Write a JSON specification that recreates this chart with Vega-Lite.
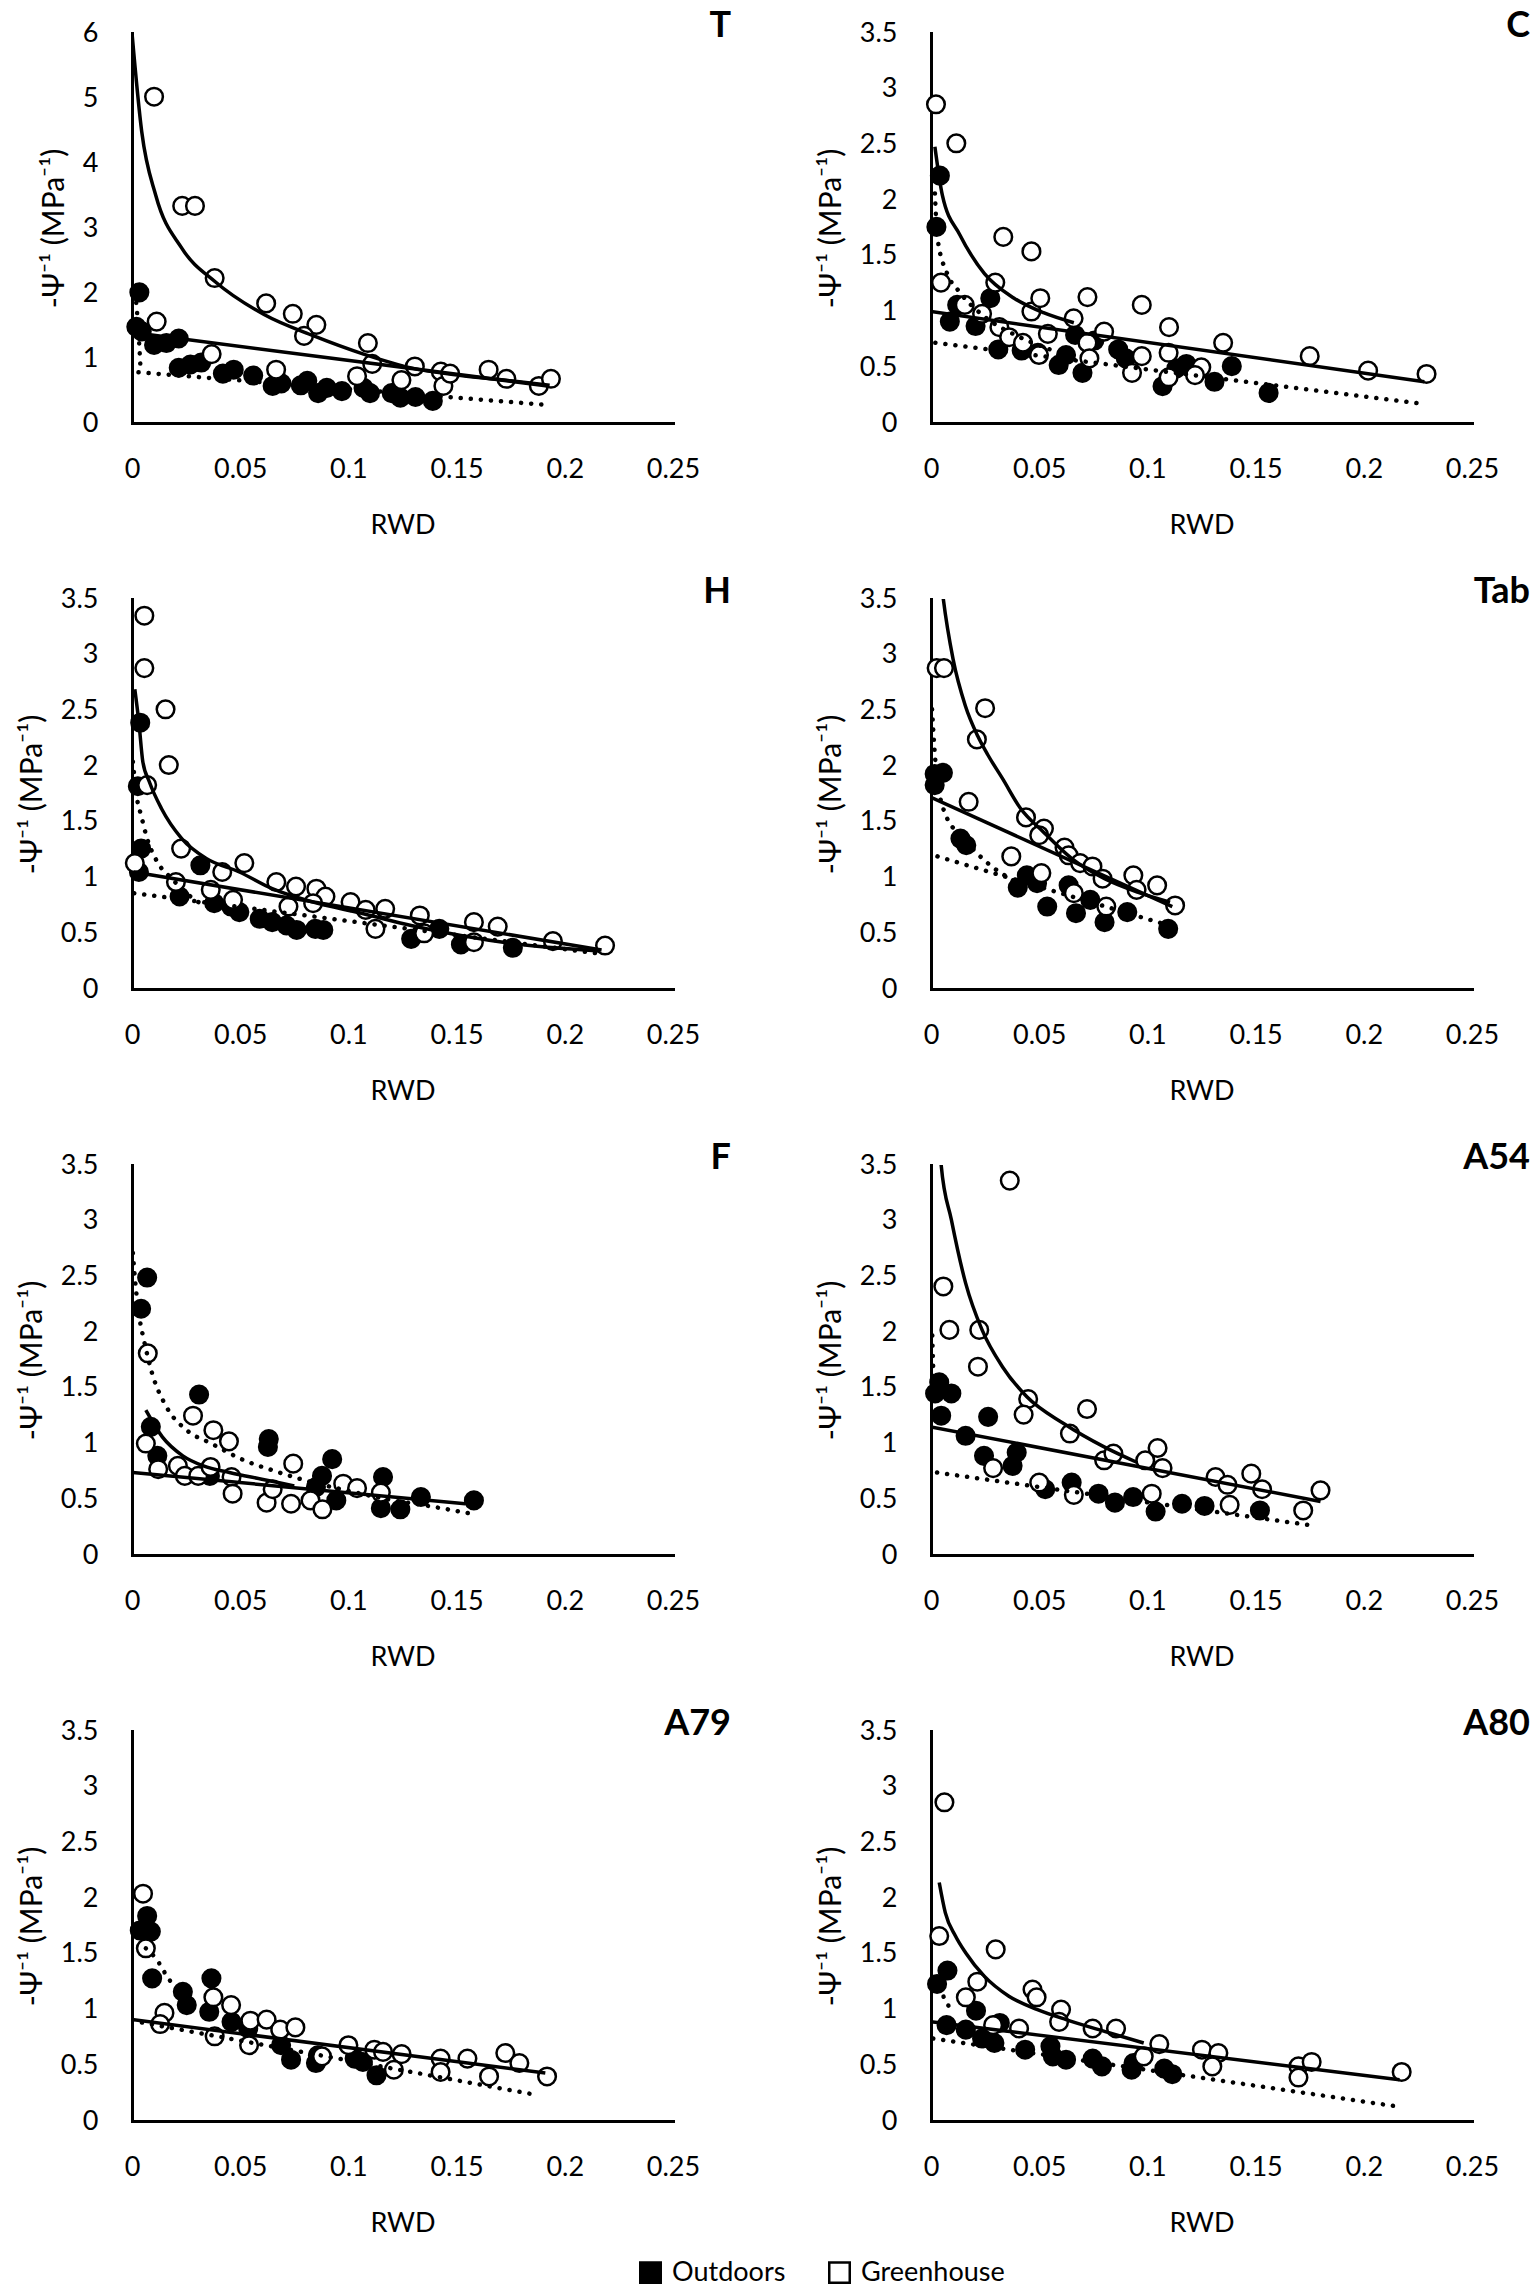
{
  "$schema": "https://vega.github.io/schema/vega-lite/v6.json",
  "background": "#ffffff",
  "padding": {"left": 17, "top": 8, "right": 0, "bottom": 0},
  "bounds": "flush",
  "columns": 2,
  "spacing": {"row": 176, "column": 258},
  "datasets": {
    "pts": [
      {"p":"T","g":"Outdoors","x":0.0034,"y":2.01},{"p":"T","g":"Outdoors","x":0.0045,"y":1.41},{"p":"T","g":"Outdoors","x":0.002,"y":1.48},{"p":"T","g":"Outdoors","x":0.0102,"y":1.2},{"p":"T","g":"Outdoors","x":0.0159,"y":1.23},{"p":"T","g":"Outdoors","x":0.0216,"y":1.3},{"p":"T","g":"Outdoors","x":0.0216,"y":0.85},{"p":"T","g":"Outdoors","x":0.027,"y":0.9},{"p":"T","g":"Outdoors","x":0.032,"y":0.93},{"p":"T","g":"Outdoors","x":0.042,"y":0.76},{"p":"T","g":"Outdoors","x":0.047,"y":0.82},{"p":"T","g":"Outdoors","x":0.056,"y":0.73},{"p":"T","g":"Outdoors","x":0.065,"y":0.57},{"p":"T","g":"Outdoors","x":0.069,"y":0.61},{"p":"T","g":"Outdoors","x":0.078,"y":0.58},{"p":"T","g":"Outdoors","x":0.081,"y":0.65},{"p":"T","g":"Outdoors","x":0.086,"y":0.46},{"p":"T","g":"Outdoors","x":0.09,"y":0.54},{"p":"T","g":"Outdoors","x":0.097,"y":0.49},{"p":"T","g":"Outdoors","x":0.107,"y":0.54},{"p":"T","g":"Outdoors","x":0.11,"y":0.46},{"p":"T","g":"Outdoors","x":0.12,"y":0.46},{"p":"T","g":"Outdoors","x":0.124,"y":0.39},{"p":"T","g":"Outdoors","x":0.131,"y":0.4},{"p":"T","g":"Outdoors","x":0.139,"y":0.34},
      {"p":"T","g":"Greenhouse","x":0.0102,"y":5.02},{"p":"T","g":"Greenhouse","x":0.0232,"y":3.34},{"p":"T","g":"Greenhouse","x":0.0291,"y":3.34},{"p":"T","g":"Greenhouse","x":0.0382,"y":2.23},{"p":"T","g":"Greenhouse","x":0.062,"y":1.84},{"p":"T","g":"Greenhouse","x":0.0743,"y":1.68},{"p":"T","g":"Greenhouse","x":0.0852,"y":1.51},{"p":"T","g":"Greenhouse","x":0.0795,"y":1.34},{"p":"T","g":"Greenhouse","x":0.0114,"y":1.56},{"p":"T","g":"Greenhouse","x":0.0368,"y":1.06},{"p":"T","g":"Greenhouse","x":0.0666,"y":0.82},{"p":"T","g":"Greenhouse","x":0.109,"y":1.23},{"p":"T","g":"Greenhouse","x":0.111,"y":0.91},{"p":"T","g":"Greenhouse","x":0.104,"y":0.72},{"p":"T","g":"Greenhouse","x":0.1245,"y":0.66},{"p":"T","g":"Greenhouse","x":0.1307,"y":0.87},{"p":"T","g":"Greenhouse","x":0.1427,"y":0.79},{"p":"T","g":"Greenhouse","x":0.1439,"y":0.57},{"p":"T","g":"Greenhouse","x":0.147,"y":0.76},{"p":"T","g":"Greenhouse","x":0.1648,"y":0.82},{"p":"T","g":"Greenhouse","x":0.173,"y":0.68},{"p":"T","g":"Greenhouse","x":0.188,"y":0.57},{"p":"T","g":"Greenhouse","x":0.1936,"y":0.68},
      {"p":"C","g":"Outdoors","x":0.0041,"y":2.22},{"p":"C","g":"Outdoors","x":0.0025,"y":1.76},{"p":"C","g":"Outdoors","x":0.0121,"y":1.06},{"p":"C","g":"Outdoors","x":0.0087,"y":0.91},{"p":"C","g":"Outdoors","x":0.0206,"y":0.87},{"p":"C","g":"Outdoors","x":0.0274,"y":1.12},{"p":"C","g":"Outdoors","x":0.0311,"y":0.66},{"p":"C","g":"Outdoors","x":0.0419,"y":0.65},{"p":"C","g":"Outdoors","x":0.0494,"y":0.63},{"p":"C","g":"Outdoors","x":0.059,"y":0.52},{"p":"C","g":"Outdoors","x":0.0624,"y":0.61},{"p":"C","g":"Outdoors","x":0.07,"y":0.45},{"p":"C","g":"Outdoors","x":0.0666,"y":0.79},{"p":"C","g":"Outdoors","x":0.0755,"y":0.74},{"p":"C","g":"Outdoors","x":0.0865,"y":0.66},{"p":"C","g":"Outdoors","x":0.09,"y":0.58},{"p":"C","g":"Outdoors","x":0.107,"y":0.33},{"p":"C","g":"Outdoors","x":0.1134,"y":0.49},{"p":"C","g":"Outdoors","x":0.118,"y":0.53},{"p":"C","g":"Outdoors","x":0.131,"y":0.37},{"p":"C","g":"Outdoors","x":0.139,"y":0.51},{"p":"C","g":"Outdoors","x":0.156,"y":0.27},
      {"p":"C","g":"Greenhouse","x":0.0023,"y":2.86},{"p":"C","g":"Greenhouse","x":0.0117,"y":2.51},{"p":"C","g":"Greenhouse","x":0.0046,"y":1.26},{"p":"C","g":"Greenhouse","x":0.0334,"y":1.67},{"p":"C","g":"Greenhouse","x":0.0464,"y":1.54},{"p":"C","g":"Greenhouse","x":0.0297,"y":1.26},{"p":"C","g":"Greenhouse","x":0.0156,"y":1.06},{"p":"C","g":"Greenhouse","x":0.0236,"y":0.98},{"p":"C","g":"Greenhouse","x":0.0316,"y":0.86},{"p":"C","g":"Greenhouse","x":0.0361,"y":0.77},{"p":"C","g":"Greenhouse","x":0.0425,"y":0.72},{"p":"C","g":"Greenhouse","x":0.0464,"y":1.0},{"p":"C","g":"Greenhouse","x":0.0505,"y":1.12},{"p":"C","g":"Greenhouse","x":0.054,"y":0.8},{"p":"C","g":"Greenhouse","x":0.0499,"y":0.61},{"p":"C","g":"Greenhouse","x":0.0659,"y":0.94},{"p":"C","g":"Greenhouse","x":0.0723,"y":1.13},{"p":"C","g":"Greenhouse","x":0.0723,"y":0.72},{"p":"C","g":"Greenhouse","x":0.0732,"y":0.58},{"p":"C","g":"Greenhouse","x":0.08,"y":0.82},{"p":"C","g":"Greenhouse","x":0.0974,"y":1.06},{"p":"C","g":"Greenhouse","x":0.0974,"y":0.6},{"p":"C","g":"Greenhouse","x":0.0929,"y":0.45},{"p":"C","g":"Greenhouse","x":0.11,"y":0.86},{"p":"C","g":"Greenhouse","x":0.1098,"y":0.63},{"p":"C","g":"Greenhouse","x":0.1098,"y":0.41},{"p":"C","g":"Greenhouse","x":0.1249,"y":0.5},{"p":"C","g":"Greenhouse","x":0.122,"y":0.43},{"p":"C","g":"Greenhouse","x":0.135,"y":0.72},{"p":"C","g":"Greenhouse","x":0.175,"y":0.6},{"p":"C","g":"Greenhouse","x":0.202,"y":0.47},{"p":"C","g":"Greenhouse","x":0.229,"y":0.44},
      {"p":"H","g":"Outdoors","x":0.0038,"y":2.39},{"p":"H","g":"Outdoors","x":0.0027,"y":1.82},{"p":"H","g":"Outdoors","x":0.0042,"y":1.26},{"p":"H","g":"Outdoors","x":0.0032,"y":1.05},{"p":"H","g":"Outdoors","x":0.0316,"y":1.11},{"p":"H","g":"Outdoors","x":0.022,"y":0.83},{"p":"H","g":"Outdoors","x":0.038,"y":0.77},{"p":"H","g":"Outdoors","x":0.0458,"y":0.74},{"p":"H","g":"Outdoors","x":0.0496,"y":0.69},{"p":"H","g":"Outdoors","x":0.059,"y":0.63},{"p":"H","g":"Outdoors","x":0.0648,"y":0.6},{"p":"H","g":"Outdoors","x":0.0714,"y":0.57},{"p":"H","g":"Outdoors","x":0.0761,"y":0.53},{"p":"H","g":"Outdoors","x":0.0847,"y":0.54},{"p":"H","g":"Outdoors","x":0.0884,"y":0.53},{"p":"H","g":"Outdoors","x":0.129,"y":0.45},{"p":"H","g":"Outdoors","x":0.142,"y":0.54},{"p":"H","g":"Outdoors","x":0.152,"y":0.4},{"p":"H","g":"Outdoors","x":0.176,"y":0.37},
      {"p":"H","g":"Greenhouse","x":0.0057,"y":3.35},{"p":"H","g":"Greenhouse","x":0.0057,"y":2.88},{"p":"H","g":"Greenhouse","x":0.0155,"y":2.51},{"p":"H","g":"Greenhouse","x":0.017,"y":2.01},{"p":"H","g":"Greenhouse","x":0.007,"y":1.83},{"p":"H","g":"Greenhouse","x":0.0227,"y":1.26},{"p":"H","g":"Greenhouse","x":0.0013,"y":1.13},{"p":"H","g":"Greenhouse","x":0.0203,"y":0.96},{"p":"H","g":"Greenhouse","x":0.0364,"y":0.89},{"p":"H","g":"Greenhouse","x":0.0417,"y":1.05},{"p":"H","g":"Greenhouse","x":0.0519,"y":1.13},{"p":"H","g":"Greenhouse","x":0.0467,"y":0.8},{"p":"H","g":"Greenhouse","x":0.0667,"y":0.96},{"p":"H","g":"Greenhouse","x":0.0758,"y":0.92},{"p":"H","g":"Greenhouse","x":0.0852,"y":0.9},{"p":"H","g":"Greenhouse","x":0.0894,"y":0.83},{"p":"H","g":"Greenhouse","x":0.0723,"y":0.74},{"p":"H","g":"Greenhouse","x":0.0837,"y":0.77},{"p":"H","g":"Greenhouse","x":0.101,"y":0.78},{"p":"H","g":"Greenhouse","x":0.108,"y":0.71},{"p":"H","g":"Greenhouse","x":0.117,"y":0.72},{"p":"H","g":"Greenhouse","x":0.1125,"y":0.54},{"p":"H","g":"Greenhouse","x":0.133,"y":0.66},{"p":"H","g":"Greenhouse","x":0.135,"y":0.5},{"p":"H","g":"Greenhouse","x":0.158,"y":0.6},{"p":"H","g":"Greenhouse","x":0.169,"y":0.56},{"p":"H","g":"Greenhouse","x":0.158,"y":0.42},{"p":"H","g":"Greenhouse","x":0.1945,"y":0.43},{"p":"H","g":"Greenhouse","x":0.2186,"y":0.39},
      {"p":"Tab","g":"Outdoors","x":0.0017,"y":1.93},{"p":"Tab","g":"Outdoors","x":0.0055,"y":1.94},{"p":"Tab","g":"Outdoors","x":0.0017,"y":1.83},{"p":"Tab","g":"Outdoors","x":0.0136,"y":1.35},{"p":"Tab","g":"Outdoors","x":0.0163,"y":1.29},{"p":"Tab","g":"Outdoors","x":0.0443,"y":1.02},{"p":"Tab","g":"Outdoors","x":0.0401,"y":0.91},{"p":"Tab","g":"Outdoors","x":0.049,"y":0.95},{"p":"Tab","g":"Outdoors","x":0.0537,"y":0.74},{"p":"Tab","g":"Outdoors","x":0.0636,"y":0.93},{"p":"Tab","g":"Outdoors","x":0.067,"y":0.68},{"p":"Tab","g":"Outdoors","x":0.0736,"y":0.8},{"p":"Tab","g":"Outdoors","x":0.0802,"y":0.6},{"p":"Tab","g":"Outdoors","x":0.0907,"y":0.69},{"p":"Tab","g":"Outdoors","x":0.1096,"y":0.54},
      {"p":"Tab","g":"Greenhouse","x":0.0026,"y":2.88},{"p":"Tab","g":"Greenhouse","x":0.006,"y":2.88},{"p":"Tab","g":"Greenhouse","x":0.025,"y":2.52},{"p":"Tab","g":"Greenhouse","x":0.0212,"y":2.24},{"p":"Tab","g":"Greenhouse","x":0.0174,"y":1.68},{"p":"Tab","g":"Greenhouse","x":0.0439,"y":1.54},{"p":"Tab","g":"Greenhouse","x":0.0522,"y":1.44},{"p":"Tab","g":"Greenhouse","x":0.05,"y":1.38},{"p":"Tab","g":"Greenhouse","x":0.0617,"y":1.27},{"p":"Tab","g":"Greenhouse","x":0.0636,"y":1.2},{"p":"Tab","g":"Greenhouse","x":0.0689,"y":1.13},{"p":"Tab","g":"Greenhouse","x":0.0746,"y":1.1},{"p":"Tab","g":"Greenhouse","x":0.0793,"y":0.99},{"p":"Tab","g":"Greenhouse","x":0.0371,"y":1.19},{"p":"Tab","g":"Greenhouse","x":0.051,"y":1.04},{"p":"Tab","g":"Greenhouse","x":0.066,"y":0.86},{"p":"Tab","g":"Greenhouse","x":0.0935,"y":1.02},{"p":"Tab","g":"Greenhouse","x":0.095,"y":0.89},{"p":"Tab","g":"Greenhouse","x":0.1045,"y":0.93},{"p":"Tab","g":"Greenhouse","x":0.1128,"y":0.75},{"p":"Tab","g":"Greenhouse","x":0.081,"y":0.74},
      {"p":"F","g":"Outdoors","x":0.007,"y":2.49},{"p":"F","g":"Outdoors","x":0.0042,"y":2.21},{"p":"F","g":"Outdoors","x":0.031,"y":1.44},{"p":"F","g":"Outdoors","x":0.0087,"y":1.15},{"p":"F","g":"Outdoors","x":0.0117,"y":0.89},{"p":"F","g":"Outdoors","x":0.0632,"y":1.04},{"p":"F","g":"Outdoors","x":0.0628,"y":0.97},{"p":"F","g":"Outdoors","x":0.0925,"y":0.86},{"p":"F","g":"Outdoors","x":0.0878,"y":0.71},{"p":"F","g":"Outdoors","x":0.085,"y":0.61},{"p":"F","g":"Outdoors","x":0.0944,"y":0.49},{"p":"F","g":"Outdoors","x":0.116,"y":0.7},{"p":"F","g":"Outdoors","x":0.115,"y":0.42},{"p":"F","g":"Outdoors","x":0.124,"y":0.41},{"p":"F","g":"Outdoors","x":0.1335,"y":0.52},{"p":"F","g":"Outdoors","x":0.158,"y":0.49},{"p":"F","g":"Outdoors","x":0.036,"y":0.71},
      {"p":"F","g":"Greenhouse","x":0.0073,"y":1.81},{"p":"F","g":"Greenhouse","x":0.0282,"y":1.25},{"p":"F","g":"Greenhouse","x":0.0376,"y":1.12},{"p":"F","g":"Greenhouse","x":0.0448,"y":1.02},{"p":"F","g":"Greenhouse","x":0.0064,"y":1.0},{"p":"F","g":"Greenhouse","x":0.0121,"y":0.77},{"p":"F","g":"Greenhouse","x":0.0212,"y":0.8},{"p":"F","g":"Greenhouse","x":0.0244,"y":0.71},{"p":"F","g":"Greenhouse","x":0.0306,"y":0.71},{"p":"F","g":"Greenhouse","x":0.0363,"y":0.79},{"p":"F","g":"Greenhouse","x":0.046,"y":0.7},{"p":"F","g":"Greenhouse","x":0.0465,"y":0.55},{"p":"F","g":"Greenhouse","x":0.0622,"y":0.47},{"p":"F","g":"Greenhouse","x":0.065,"y":0.59},{"p":"F","g":"Greenhouse","x":0.0735,"y":0.46},{"p":"F","g":"Greenhouse","x":0.0745,"y":0.82},{"p":"F","g":"Greenhouse","x":0.0825,"y":0.49},{"p":"F","g":"Greenhouse","x":0.088,"y":0.41},{"p":"F","g":"Greenhouse","x":0.0976,"y":0.64},{"p":"F","g":"Greenhouse","x":0.104,"y":0.6},{"p":"F","g":"Greenhouse","x":0.115,"y":0.56},
      {"p":"A54","g":"Outdoors","x":0.0038,"y":1.55},{"p":"A54","g":"Outdoors","x":0.0094,"y":1.45},{"p":"A54","g":"Outdoors","x":0.0019,"y":1.45},{"p":"A54","g":"Outdoors","x":0.0047,"y":1.25},{"p":"A54","g":"Outdoors","x":0.0264,"y":1.24},{"p":"A54","g":"Outdoors","x":0.016,"y":1.07},{"p":"A54","g":"Outdoors","x":0.0245,"y":0.89},{"p":"A54","g":"Outdoors","x":0.0396,"y":0.92},{"p":"A54","g":"Outdoors","x":0.0377,"y":0.8},{"p":"A54","g":"Outdoors","x":0.0528,"y":0.59},{"p":"A54","g":"Outdoors","x":0.065,"y":0.65},{"p":"A54","g":"Outdoors","x":0.0774,"y":0.55},{"p":"A54","g":"Outdoors","x":0.085,"y":0.47},{"p":"A54","g":"Outdoors","x":0.0934,"y":0.52},{"p":"A54","g":"Outdoors","x":0.1038,"y":0.39},{"p":"A54","g":"Outdoors","x":0.116,"y":0.46},{"p":"A54","g":"Outdoors","x":0.1264,"y":0.44},{"p":"A54","g":"Outdoors","x":0.152,"y":0.4},
      {"p":"A54","g":"Greenhouse","x":0.0364,"y":3.36},{"p":"A54","g":"Greenhouse","x":0.0057,"y":2.41},{"p":"A54","g":"Greenhouse","x":0.0085,"y":2.02},{"p":"A54","g":"Greenhouse","x":0.0223,"y":2.02},{"p":"A54","g":"Greenhouse","x":0.0217,"y":1.69},{"p":"A54","g":"Greenhouse","x":0.0449,"y":1.4},{"p":"A54","g":"Greenhouse","x":0.0428,"y":1.26},{"p":"A54","g":"Greenhouse","x":0.0721,"y":1.31},{"p":"A54","g":"Greenhouse","x":0.0642,"y":1.09},{"p":"A54","g":"Greenhouse","x":0.08,"y":0.85},{"p":"A54","g":"Greenhouse","x":0.0843,"y":0.91},{"p":"A54","g":"Greenhouse","x":0.099,"y":0.85},{"p":"A54","g":"Greenhouse","x":0.1047,"y":0.96},{"p":"A54","g":"Greenhouse","x":0.107,"y":0.78},{"p":"A54","g":"Greenhouse","x":0.0287,"y":0.78},{"p":"A54","g":"Greenhouse","x":0.05,"y":0.65},{"p":"A54","g":"Greenhouse","x":0.066,"y":0.54},{"p":"A54","g":"Greenhouse","x":0.102,"y":0.55},{"p":"A54","g":"Greenhouse","x":0.1315,"y":0.7},{"p":"A54","g":"Greenhouse","x":0.137,"y":0.63},{"p":"A54","g":"Greenhouse","x":0.148,"y":0.73},{"p":"A54","g":"Greenhouse","x":0.153,"y":0.59},{"p":"A54","g":"Greenhouse","x":0.138,"y":0.45},{"p":"A54","g":"Greenhouse","x":0.172,"y":0.4},{"p":"A54","g":"Greenhouse","x":0.18,"y":0.58},
      {"p":"A79","g":"Outdoors","x":0.007,"y":1.84},{"p":"A79","g":"Outdoors","x":0.0036,"y":1.71},{"p":"A79","g":"Outdoors","x":0.0087,"y":1.7},{"p":"A79","g":"Outdoors","x":0.0093,"y":1.28},{"p":"A79","g":"Outdoors","x":0.0367,"y":1.28},{"p":"A79","g":"Outdoors","x":0.0235,"y":1.16},{"p":"A79","g":"Outdoors","x":0.0253,"y":1.04},{"p":"A79","g":"Outdoors","x":0.0357,"y":0.98},{"p":"A79","g":"Outdoors","x":0.046,"y":0.89},{"p":"A79","g":"Outdoors","x":0.0537,"y":0.83},{"p":"A79","g":"Outdoors","x":0.0689,"y":0.68},{"p":"A79","g":"Outdoors","x":0.0735,"y":0.55},{"p":"A79","g":"Outdoors","x":0.0859,"y":0.59},{"p":"A79","g":"Outdoors","x":0.085,"y":0.52},{"p":"A79","g":"Outdoors","x":0.1029,"y":0.56},{"p":"A79","g":"Outdoors","x":0.1067,"y":0.53},{"p":"A79","g":"Outdoors","x":0.113,"y":0.41},
      {"p":"A79","g":"Greenhouse","x":0.0051,"y":2.04},{"p":"A79","g":"Greenhouse","x":0.0064,"y":1.55},{"p":"A79","g":"Greenhouse","x":0.015,"y":0.97},{"p":"A79","g":"Greenhouse","x":0.013,"y":0.87},{"p":"A79","g":"Greenhouse","x":0.0376,"y":1.11},{"p":"A79","g":"Greenhouse","x":0.0458,"y":1.04},{"p":"A79","g":"Greenhouse","x":0.0382,"y":0.76},{"p":"A79","g":"Greenhouse","x":0.0547,"y":0.9},{"p":"A79","g":"Greenhouse","x":0.0622,"y":0.91},{"p":"A79","g":"Greenhouse","x":0.0685,"y":0.82},{"p":"A79","g":"Greenhouse","x":0.0755,"y":0.84},{"p":"A79","g":"Greenhouse","x":0.0541,"y":0.68},{"p":"A79","g":"Greenhouse","x":0.0878,"y":0.58},{"p":"A79","g":"Greenhouse","x":0.1,"y":0.68},{"p":"A79","g":"Greenhouse","x":0.112,"y":0.64},{"p":"A79","g":"Greenhouse","x":0.116,"y":0.62},{"p":"A79","g":"Greenhouse","x":0.1246,"y":0.6},{"p":"A79","g":"Greenhouse","x":0.121,"y":0.46},{"p":"A79","g":"Greenhouse","x":0.1426,"y":0.56},{"p":"A79","g":"Greenhouse","x":0.1426,"y":0.44},{"p":"A79","g":"Greenhouse","x":0.155,"y":0.56},{"p":"A79","g":"Greenhouse","x":0.1725,"y":0.61},{"p":"A79","g":"Greenhouse","x":0.179,"y":0.52},{"p":"A79","g":"Greenhouse","x":0.165,"y":0.4},{"p":"A79","g":"Greenhouse","x":0.1918,"y":0.4},
      {"p":"A80","g":"Outdoors","x":0.0076,"y":1.35},{"p":"A80","g":"Outdoors","x":0.0028,"y":1.23},{"p":"A80","g":"Outdoors","x":0.0208,"y":0.99},{"p":"A80","g":"Outdoors","x":0.0072,"y":0.86},{"p":"A80","g":"Outdoors","x":0.0161,"y":0.82},{"p":"A80","g":"Outdoors","x":0.0318,"y":0.88},{"p":"A80","g":"Outdoors","x":0.0293,"y":0.7},{"p":"A80","g":"Outdoors","x":0.0236,"y":0.74},{"p":"A80","g":"Outdoors","x":0.0435,"y":0.64},{"p":"A80","g":"Outdoors","x":0.0552,"y":0.67},{"p":"A80","g":"Outdoors","x":0.0563,"y":0.58},{"p":"A80","g":"Outdoors","x":0.0624,"y":0.55},{"p":"A80","g":"Outdoors","x":0.0747,"y":0.56},{"p":"A80","g":"Outdoors","x":0.079,"y":0.49},{"p":"A80","g":"Outdoors","x":0.0927,"y":0.46},{"p":"A80","g":"Outdoors","x":0.0936,"y":0.52},{"p":"A80","g":"Outdoors","x":0.1078,"y":0.47},{"p":"A80","g":"Outdoors","x":0.1115,"y":0.42},
      {"p":"A80","g":"Greenhouse","x":0.0062,"y":2.86},{"p":"A80","g":"Greenhouse","x":0.0038,"y":1.66},{"p":"A80","g":"Greenhouse","x":0.0299,"y":1.54},{"p":"A80","g":"Greenhouse","x":0.0214,"y":1.25},{"p":"A80","g":"Greenhouse","x":0.0161,"y":1.11},{"p":"A80","g":"Greenhouse","x":0.0469,"y":1.18},{"p":"A80","g":"Greenhouse","x":0.0488,"y":1.11},{"p":"A80","g":"Greenhouse","x":0.0601,"y":1.0},{"p":"A80","g":"Greenhouse","x":0.0592,"y":0.89},{"p":"A80","g":"Greenhouse","x":0.0287,"y":0.86},{"p":"A80","g":"Greenhouse","x":0.0407,"y":0.83},{"p":"A80","g":"Greenhouse","x":0.0747,"y":0.83},{"p":"A80","g":"Greenhouse","x":0.0855,"y":0.83},{"p":"A80","g":"Greenhouse","x":0.1055,"y":0.69},{"p":"A80","g":"Greenhouse","x":0.0983,"y":0.58},{"p":"A80","g":"Greenhouse","x":0.1252,"y":0.64},{"p":"A80","g":"Greenhouse","x":0.1328,"y":0.61},{"p":"A80","g":"Greenhouse","x":0.13,"y":0.49},{"p":"A80","g":"Greenhouse","x":0.1698,"y":0.49},{"p":"A80","g":"Greenhouse","x":0.1759,"y":0.53},{"p":"A80","g":"Greenhouse","x":0.1698,"y":0.39},{"p":"A80","g":"Greenhouse","x":0.2175,"y":0.44}
    ],
    "lines": [
      {"p":"T","id":"T1","s":"solid","x":0,"y":6},{"p":"T","id":"T1","s":"solid","x":0.0045,"y":4.48},{"p":"T","id":"T1","s":"solid","x":0.011,"y":3.5},{"p":"T","id":"T1","s":"solid","x":0.023,"y":2.69},{"p":"T","id":"T1","s":"solid","x":0.0386,"y":2.17},{"p":"T","id":"T1","s":"solid","x":0.061,"y":1.67},{"p":"T","id":"T1","s":"solid","x":0.084,"y":1.34},{"p":"T","id":"T1","s":"solid","x":0.107,"y":1.06},{"p":"T","id":"T1","s":"solid","x":0.13,"y":0.84},{"p":"T","id":"T1","s":"solid","x":0.152,"y":0.73},{"p":"T","id":"T1","s":"solid","x":0.175,"y":0.65},{"p":"T","id":"T1","s":"solid","x":0.193,"y":0.58},
      {"p":"T","id":"T2","s":"solid","x":0.003,"y":1.38},{"p":"T","id":"T2","s":"solid","x":0.192,"y":0.57},
      {"p":"T","id":"T3","s":"dot","x":0.0015,"y":2.0},{"p":"T","id":"T3","s":"dot","x":0.003,"y":1.4},{"p":"T","id":"T3","s":"dot","x":0.004,"y":0.8},
      {"p":"T","id":"T4","s":"dot","x":0.003,"y":0.78},{"p":"T","id":"T4","s":"dot","x":0.191,"y":0.28},
      {"p":"C","id":"C1","s":"solid","x":0.0018,"y":2.48},{"p":"C","id":"C1","s":"solid","x":0.0053,"y":2.04},{"p":"C","id":"C1","s":"solid","x":0.0133,"y":1.69},{"p":"C","id":"C1","s":"solid","x":0.0247,"y":1.34},{"p":"C","id":"C1","s":"solid","x":0.0384,"y":1.12},{"p":"C","id":"C1","s":"solid","x":0.052,"y":0.99},{"p":"C","id":"C1","s":"solid","x":0.066,"y":0.9},
      {"p":"C","id":"C2","s":"solid","x":0,"y":1.0},{"p":"C","id":"C2","s":"solid","x":0.228,"y":0.37},
      {"p":"C","id":"C3","s":"dot","x":0.0018,"y":2.06},{"p":"C","id":"C3","s":"dot","x":0.003,"y":1.66},{"p":"C","id":"C3","s":"dot","x":0.0075,"y":1.34},{"p":"C","id":"C3","s":"dot","x":0.013,"y":1.18},{"p":"C","id":"C3","s":"dot","x":0.025,"y":0.95},{"p":"C","id":"C3","s":"dot","x":0.04,"y":0.78},{"p":"C","id":"C3","s":"dot","x":0.055,"y":0.66},
      {"p":"C","id":"C4","s":"dot","x":0.002,"y":0.72},{"p":"C","id":"C4","s":"dot","x":0.228,"y":0.17},
      {"p":"H","id":"H1","s":"solid","x":0.0013,"y":2.69},{"p":"H","id":"H1","s":"solid","x":0.0032,"y":2.39},{"p":"H","id":"H1","s":"solid","x":0.005,"y":2.04},{"p":"H","id":"H1","s":"solid","x":0.008,"y":1.86},{"p":"H","id":"H1","s":"solid","x":0.0136,"y":1.62},{"p":"H","id":"H1","s":"solid","x":0.023,"y":1.35},{"p":"H","id":"H1","s":"solid","x":0.0345,"y":1.17},{"p":"H","id":"H1","s":"solid","x":0.0496,"y":1.05},{"p":"H","id":"H1","s":"solid","x":0.0648,"y":0.9},{"p":"H","id":"H1","s":"solid","x":0.0837,"y":0.78},{"p":"H","id":"H1","s":"solid","x":0.106,"y":0.68},{"p":"H","id":"H1","s":"solid","x":0.129,"y":0.57},{"p":"H","id":"H1","s":"solid","x":0.152,"y":0.48},{"p":"H","id":"H1","s":"solid","x":0.175,"y":0.41},{"p":"H","id":"H1","s":"solid","x":0.216,"y":0.34},
      {"p":"H","id":"H2","s":"solid","x":0.0008,"y":1.05},{"p":"H","id":"H2","s":"solid","x":0.217,"y":0.35},
      {"p":"H","id":"H3","s":"dot","x":0.0004,"y":2.04},{"p":"H","id":"H3","s":"dot","x":0.0023,"y":1.71},{"p":"H","id":"H3","s":"dot","x":0.0042,"y":1.56},{"p":"H","id":"H3","s":"dot","x":0.007,"y":1.35},{"p":"H","id":"H3","s":"dot","x":0.0117,"y":1.14},{"p":"H","id":"H3","s":"dot","x":0.0184,"y":0.99},{"p":"H","id":"H3","s":"dot","x":0.0307,"y":0.78},{"p":"H","id":"H3","s":"dot","x":0.045,"y":0.7},
      {"p":"H","id":"H4","s":"dot","x":0.001,"y":0.86},{"p":"H","id":"H4","s":"dot","x":0.215,"y":0.32},
      {"p":"Tab","id":"Tab1","s":"solid","x":0.0045,"y":3.7},{"p":"Tab","id":"Tab1","s":"solid","x":0.0055,"y":3.53},{"p":"Tab","id":"Tab1","s":"solid","x":0.0102,"y":2.96},{"p":"Tab","id":"Tab1","s":"solid","x":0.0159,"y":2.54},{"p":"Tab","id":"Tab1","s":"solid","x":0.0216,"y":2.27},{"p":"Tab","id":"Tab1","s":"solid","x":0.0263,"y":2.1},{"p":"Tab","id":"Tab1","s":"solid","x":0.033,"y":1.89},{"p":"Tab","id":"Tab1","s":"solid","x":0.0414,"y":1.62},{"p":"Tab","id":"Tab1","s":"solid","x":0.0519,"y":1.41},{"p":"Tab","id":"Tab1","s":"solid","x":0.0651,"y":1.17},{"p":"Tab","id":"Tab1","s":"solid","x":0.0802,"y":0.99},{"p":"Tab","id":"Tab1","s":"solid","x":0.0954,"y":0.87},{"p":"Tab","id":"Tab1","s":"solid","x":0.1105,"y":0.78},
      {"p":"Tab","id":"Tab2","s":"solid","x":0,"y":1.72},{"p":"Tab","id":"Tab2","s":"solid","x":0.1115,"y":0.74},
      {"p":"Tab","id":"Tab3","s":"dot","x":0.0005,"y":2.51},{"p":"Tab","id":"Tab3","s":"dot","x":0.002,"y":2.05},{"p":"Tab","id":"Tab3","s":"dot","x":0.006,"y":1.6},{"p":"Tab","id":"Tab3","s":"dot","x":0.015,"y":1.35},{"p":"Tab","id":"Tab3","s":"dot","x":0.025,"y":1.15},{"p":"Tab","id":"Tab3","s":"dot","x":0.04,"y":0.95},
      {"p":"Tab","id":"Tab4","s":"dot","x":0.003,"y":1.19},{"p":"Tab","id":"Tab4","s":"dot","x":0.11,"y":0.57},
      {"p":"F","id":"F1","s":"dot","x":0.0004,"y":2.71},{"p":"F","id":"F1","s":"dot","x":0.0017,"y":2.41},{"p":"F","id":"F1","s":"dot","x":0.0036,"y":2.11},{"p":"F","id":"F1","s":"dot","x":0.0055,"y":1.93},{"p":"F","id":"F1","s":"dot","x":0.0093,"y":1.63},{"p":"F","id":"F1","s":"dot","x":0.0159,"y":1.33},{"p":"F","id":"F1","s":"dot","x":0.0253,"y":1.12},{"p":"F","id":"F1","s":"dot","x":0.0367,"y":1.0},{"p":"F","id":"F1","s":"dot","x":0.0518,"y":0.85},{"p":"F","id":"F1","s":"dot","x":0.065,"y":0.76},{"p":"F","id":"F1","s":"dot","x":0.08,"y":0.67},{"p":"F","id":"F1","s":"dot","x":0.099,"y":0.58},{"p":"F","id":"F1","s":"dot","x":0.118,"y":0.5},{"p":"F","id":"F1","s":"dot","x":0.137,"y":0.44},{"p":"F","id":"F1","s":"dot","x":0.157,"y":0.37},
      {"p":"F","id":"F2","s":"solid","x":0.0004,"y":0.74},{"p":"F","id":"F2","s":"solid","x":0.154,"y":0.46},
      {"p":"F","id":"F3","s":"solid","x":0.0064,"y":1.3},{"p":"F","id":"F3","s":"solid","x":0.014,"y":1.06},{"p":"F","id":"F3","s":"solid","x":0.0235,"y":0.89},{"p":"F","id":"F3","s":"solid","x":0.033,"y":0.8},{"p":"F","id":"F3","s":"solid","x":0.045,"y":0.74},{"p":"F","id":"F3","s":"solid","x":0.06,"y":0.68},{"p":"F","id":"F3","s":"solid","x":0.075,"y":0.62},
      {"p":"A54","id":"A1","s":"solid","x":0.004,"y":3.7},{"p":"A54","id":"A1","s":"solid","x":0.0047,"y":3.5},{"p":"A54","id":"A1","s":"solid","x":0.0094,"y":3.01},{"p":"A54","id":"A1","s":"solid","x":0.016,"y":2.44},{"p":"A54","id":"A1","s":"solid","x":0.0236,"y":2.02},{"p":"A54","id":"A1","s":"solid","x":0.033,"y":1.69},{"p":"A54","id":"A1","s":"solid","x":0.0443,"y":1.42},{"p":"A54","id":"A1","s":"solid","x":0.0613,"y":1.18},{"p":"A54","id":"A1","s":"solid","x":0.08,"y":0.97},{"p":"A54","id":"A1","s":"solid","x":0.0953,"y":0.83},
      {"p":"A54","id":"A2","s":"solid","x":0,"y":1.15},{"p":"A54","id":"A2","s":"solid","x":0.18,"y":0.48},
      {"p":"A54","id":"A3","s":"dot","x":0.0006,"y":1.97},{"p":"A54","id":"A3","s":"dot","x":0.001,"y":1.69},{"p":"A54","id":"A3","s":"dot","x":0.0015,"y":1.45},
      {"p":"A54","id":"A4","s":"dot","x":0.0028,"y":0.74},{"p":"A54","id":"A4","s":"dot","x":0.178,"y":0.26},
      {"p":"A79","id":"B1","s":"solid","x":0,"y":0.91},{"p":"A79","id":"B1","s":"solid","x":0.191,"y":0.43},
      {"p":"A79","id":"B2","s":"dot","x":0.0064,"y":1.55},{"p":"A79","id":"B2","s":"dot","x":0.011,"y":1.46},{"p":"A79","id":"B2","s":"dot","x":0.0168,"y":1.28},{"p":"A79","id":"B2","s":"dot","x":0.025,"y":1.1},
      {"p":"A79","id":"B3","s":"dot","x":0,"y":0.9},{"p":"A79","id":"B3","s":"dot","x":0.188,"y":0.23},
      {"p":"A80","id":"D1","s":"solid","x":0.0038,"y":2.14},{"p":"A80","id":"D1","s":"solid","x":0.0066,"y":1.87},{"p":"A80","id":"D1","s":"solid","x":0.0113,"y":1.66},{"p":"A80","id":"D1","s":"solid","x":0.016,"y":1.51},{"p":"A80","id":"D1","s":"solid","x":0.0246,"y":1.3},{"p":"A80","id":"D1","s":"solid","x":0.036,"y":1.12},{"p":"A80","id":"D1","s":"solid","x":0.0492,"y":1.0},{"p":"A80","id":"D1","s":"solid","x":0.0624,"y":0.91},{"p":"A80","id":"D1","s":"solid","x":0.0775,"y":0.82},{"p":"A80","id":"D1","s":"solid","x":0.0983,"y":0.7},
      {"p":"A80","id":"D2","s":"solid","x":0,"y":0.89},{"p":"A80","id":"D2","s":"solid","x":0.2165,"y":0.37},
      {"p":"A80","id":"D3","s":"dot","x":0.001,"y":0.74},{"p":"A80","id":"D3","s":"dot","x":0.2156,"y":0.13},
      {"p":"A80","id":"D4","s":"dot","x":0.004,"y":1.2},{"p":"A80","id":"D4","s":"dot","x":0.0057,"y":1.12},{"p":"A80","id":"D4","s":"dot","x":0.01,"y":0.98}
    ]
  },
  "concat": [
    {
      "width": 541, "height": 390,
      "title": {"text": "T"},
      "encoding": {
        "x": {"field": "x", "type": "quantitative", "scale": {"domain": [0, 0.25], "nice": false}, "axis": {"title": "RWD", "values": [0, 0.05, 0.1, 0.15, 0.2, 0.25], "format": "~g"}},
        "y": {"field": "y", "type": "quantitative", "scale": {"domain": [0, 6], "nice": false}, "axis": {"title": "-Ψ⁻¹ (MPa⁻¹)", "values": [0, 1, 2, 3, 4, 5, 6], "format": "~g"}}
      },
      "layer": [
        {"data": {"name": "pts"}, "transform": [{"filter": "datum.p === 'T'"}], "mark": {"type": "point", "shape": "circle", "filled": true, "size": 310, "stroke": "black", "strokeWidth": 2.5, "opacity": 1},
         "encoding": {"fill": {"field": "g", "type": "nominal", "scale": {"domain": ["Outdoors", "Greenhouse"], "range": ["black", "white"]}, "legend": {"orient": "none", "legendX": 505, "legendY": 2226, "direction": "horizontal", "title": null}}}},
        {"data": {"name": "lines"}, "transform": [{"filter": "datum.p === 'T' && datum.s === 'solid'"}], "mark": {"type": "line", "color": "black", "strokeWidth": 3.5, "interpolate": "monotone", "clip": true}, "encoding": {"detail": {"field": "id"}}},
        {"data": {"name": "lines"}, "transform": [{"filter": "datum.p === 'T' && datum.s === 'dot'"}], "mark": {"type": "line", "color": "black", "strokeWidth": 4.5, "strokeDash": [0.1, 10], "strokeCap": "round", "interpolate": "monotone", "clip": true}, "encoding": {"detail": {"field": "id"}}}
      ]
    },
    {
      "width": 541, "height": 390,
      "title": {"text": "C"},
      "encoding": {
        "x": {"field": "x", "type": "quantitative", "scale": {"domain": [0, 0.25], "nice": false}, "axis": {"title": "RWD", "values": [0, 0.05, 0.1, 0.15, 0.2, 0.25], "format": "~g"}},
        "y": {"field": "y", "type": "quantitative", "scale": {"domain": [0, 3.5], "nice": false}, "axis": {"title": "-Ψ⁻¹ (MPa⁻¹)", "values": [0, 0.5, 1, 1.5, 2, 2.5, 3, 3.5], "format": "~g"}}
      },
      "layer": [
        {"data": {"name": "pts"}, "transform": [{"filter": "datum.p === 'C'"}], "mark": {"type": "point", "shape": "circle", "filled": true, "size": 310, "stroke": "black", "strokeWidth": 2.5, "opacity": 1},
         "encoding": {"fill": {"field": "g", "type": "nominal", "scale": {"domain": ["Outdoors", "Greenhouse"], "range": ["black", "white"]}}}},
        {"data": {"name": "lines"}, "transform": [{"filter": "datum.p === 'C' && datum.s === 'solid'"}], "mark": {"type": "line", "color": "black", "strokeWidth": 3.5, "interpolate": "monotone", "clip": true}, "encoding": {"detail": {"field": "id"}}},
        {"data": {"name": "lines"}, "transform": [{"filter": "datum.p === 'C' && datum.s === 'dot'"}], "mark": {"type": "line", "color": "black", "strokeWidth": 4.5, "strokeDash": [0.1, 10], "strokeCap": "round", "interpolate": "monotone", "clip": true}, "encoding": {"detail": {"field": "id"}}}
      ]
    },
    {
      "width": 541, "height": 390,
      "title": {"text": "H"},
      "encoding": {
        "x": {"field": "x", "type": "quantitative", "scale": {"domain": [0, 0.25], "nice": false}, "axis": {"title": "RWD", "values": [0, 0.05, 0.1, 0.15, 0.2, 0.25], "format": "~g"}},
        "y": {"field": "y", "type": "quantitative", "scale": {"domain": [0, 3.5], "nice": false}, "axis": {"title": "-Ψ⁻¹ (MPa⁻¹)", "values": [0, 0.5, 1, 1.5, 2, 2.5, 3, 3.5], "format": "~g"}}
      },
      "layer": [
        {"data": {"name": "pts"}, "transform": [{"filter": "datum.p === 'H'"}], "mark": {"type": "point", "shape": "circle", "filled": true, "size": 310, "stroke": "black", "strokeWidth": 2.5, "opacity": 1},
         "encoding": {"fill": {"field": "g", "type": "nominal", "scale": {"domain": ["Outdoors", "Greenhouse"], "range": ["black", "white"]}}}},
        {"data": {"name": "lines"}, "transform": [{"filter": "datum.p === 'H' && datum.s === 'solid'"}], "mark": {"type": "line", "color": "black", "strokeWidth": 3.5, "interpolate": "monotone", "clip": true}, "encoding": {"detail": {"field": "id"}}},
        {"data": {"name": "lines"}, "transform": [{"filter": "datum.p === 'H' && datum.s === 'dot'"}], "mark": {"type": "line", "color": "black", "strokeWidth": 4.5, "strokeDash": [0.1, 10], "strokeCap": "round", "interpolate": "monotone", "clip": true}, "encoding": {"detail": {"field": "id"}}}
      ]
    },
    {
      "width": 541, "height": 390,
      "title": {"text": "Tab"},
      "encoding": {
        "x": {"field": "x", "type": "quantitative", "scale": {"domain": [0, 0.25], "nice": false}, "axis": {"title": "RWD", "values": [0, 0.05, 0.1, 0.15, 0.2, 0.25], "format": "~g"}},
        "y": {"field": "y", "type": "quantitative", "scale": {"domain": [0, 3.5], "nice": false}, "axis": {"title": "-Ψ⁻¹ (MPa⁻¹)", "values": [0, 0.5, 1, 1.5, 2, 2.5, 3, 3.5], "format": "~g"}}
      },
      "layer": [
        {"data": {"name": "pts"}, "transform": [{"filter": "datum.p === 'Tab'"}], "mark": {"type": "point", "shape": "circle", "filled": true, "size": 310, "stroke": "black", "strokeWidth": 2.5, "opacity": 1},
         "encoding": {"fill": {"field": "g", "type": "nominal", "scale": {"domain": ["Outdoors", "Greenhouse"], "range": ["black", "white"]}}}},
        {"data": {"name": "lines"}, "transform": [{"filter": "datum.p === 'Tab' && datum.s === 'solid'"}], "mark": {"type": "line", "color": "black", "strokeWidth": 3.5, "interpolate": "monotone", "clip": true}, "encoding": {"detail": {"field": "id"}}},
        {"data": {"name": "lines"}, "transform": [{"filter": "datum.p === 'Tab' && datum.s === 'dot'"}], "mark": {"type": "line", "color": "black", "strokeWidth": 4.5, "strokeDash": [0.1, 10], "strokeCap": "round", "interpolate": "monotone", "clip": true}, "encoding": {"detail": {"field": "id"}}}
      ]
    },
    {
      "width": 541, "height": 390,
      "title": {"text": "F"},
      "encoding": {
        "x": {"field": "x", "type": "quantitative", "scale": {"domain": [0, 0.25], "nice": false}, "axis": {"title": "RWD", "values": [0, 0.05, 0.1, 0.15, 0.2, 0.25], "format": "~g"}},
        "y": {"field": "y", "type": "quantitative", "scale": {"domain": [0, 3.5], "nice": false}, "axis": {"title": "-Ψ⁻¹ (MPa⁻¹)", "values": [0, 0.5, 1, 1.5, 2, 2.5, 3, 3.5], "format": "~g"}}
      },
      "layer": [
        {"data": {"name": "pts"}, "transform": [{"filter": "datum.p === 'F'"}], "mark": {"type": "point", "shape": "circle", "filled": true, "size": 310, "stroke": "black", "strokeWidth": 2.5, "opacity": 1},
         "encoding": {"fill": {"field": "g", "type": "nominal", "scale": {"domain": ["Outdoors", "Greenhouse"], "range": ["black", "white"]}}}},
        {"data": {"name": "lines"}, "transform": [{"filter": "datum.p === 'F' && datum.s === 'solid'"}], "mark": {"type": "line", "color": "black", "strokeWidth": 3.5, "interpolate": "monotone", "clip": true}, "encoding": {"detail": {"field": "id"}}},
        {"data": {"name": "lines"}, "transform": [{"filter": "datum.p === 'F' && datum.s === 'dot'"}], "mark": {"type": "line", "color": "black", "strokeWidth": 4.5, "strokeDash": [0.1, 10], "strokeCap": "round", "interpolate": "monotone", "clip": true}, "encoding": {"detail": {"field": "id"}}}
      ]
    },
    {
      "width": 541, "height": 390,
      "title": {"text": "A54"},
      "encoding": {
        "x": {"field": "x", "type": "quantitative", "scale": {"domain": [0, 0.25], "nice": false}, "axis": {"title": "RWD", "values": [0, 0.05, 0.1, 0.15, 0.2, 0.25], "format": "~g"}},
        "y": {"field": "y", "type": "quantitative", "scale": {"domain": [0, 3.5], "nice": false}, "axis": {"title": "-Ψ⁻¹ (MPa⁻¹)", "values": [0, 0.5, 1, 1.5, 2, 2.5, 3, 3.5], "format": "~g"}}
      },
      "layer": [
        {"data": {"name": "pts"}, "transform": [{"filter": "datum.p === 'A54'"}], "mark": {"type": "point", "shape": "circle", "filled": true, "size": 310, "stroke": "black", "strokeWidth": 2.5, "opacity": 1},
         "encoding": {"fill": {"field": "g", "type": "nominal", "scale": {"domain": ["Outdoors", "Greenhouse"], "range": ["black", "white"]}}}},
        {"data": {"name": "lines"}, "transform": [{"filter": "datum.p === 'A54' && datum.s === 'solid'"}], "mark": {"type": "line", "color": "black", "strokeWidth": 3.5, "interpolate": "monotone", "clip": true}, "encoding": {"detail": {"field": "id"}}},
        {"data": {"name": "lines"}, "transform": [{"filter": "datum.p === 'A54' && datum.s === 'dot'"}], "mark": {"type": "line", "color": "black", "strokeWidth": 4.5, "strokeDash": [0.1, 10], "strokeCap": "round", "interpolate": "monotone", "clip": true}, "encoding": {"detail": {"field": "id"}}}
      ]
    },
    {
      "width": 541, "height": 390,
      "title": {"text": "A79"},
      "encoding": {
        "x": {"field": "x", "type": "quantitative", "scale": {"domain": [0, 0.25], "nice": false}, "axis": {"title": "RWD", "values": [0, 0.05, 0.1, 0.15, 0.2, 0.25], "format": "~g"}},
        "y": {"field": "y", "type": "quantitative", "scale": {"domain": [0, 3.5], "nice": false}, "axis": {"title": "-Ψ⁻¹ (MPa⁻¹)", "values": [0, 0.5, 1, 1.5, 2, 2.5, 3, 3.5], "format": "~g"}}
      },
      "layer": [
        {"data": {"name": "pts"}, "transform": [{"filter": "datum.p === 'A79'"}], "mark": {"type": "point", "shape": "circle", "filled": true, "size": 310, "stroke": "black", "strokeWidth": 2.5, "opacity": 1},
         "encoding": {"fill": {"field": "g", "type": "nominal", "scale": {"domain": ["Outdoors", "Greenhouse"], "range": ["black", "white"]}}}},
        {"data": {"name": "lines"}, "transform": [{"filter": "datum.p === 'A79' && datum.s === 'solid'"}], "mark": {"type": "line", "color": "black", "strokeWidth": 3.5, "interpolate": "monotone", "clip": true}, "encoding": {"detail": {"field": "id"}}},
        {"data": {"name": "lines"}, "transform": [{"filter": "datum.p === 'A79' && datum.s === 'dot'"}], "mark": {"type": "line", "color": "black", "strokeWidth": 4.5, "strokeDash": [0.1, 10], "strokeCap": "round", "interpolate": "monotone", "clip": true}, "encoding": {"detail": {"field": "id"}}}
      ]
    },
    {
      "width": 541, "height": 390,
      "title": {"text": "A80"},
      "encoding": {
        "x": {"field": "x", "type": "quantitative", "scale": {"domain": [0, 0.25], "nice": false}, "axis": {"title": "RWD", "values": [0, 0.05, 0.1, 0.15, 0.2, 0.25], "format": "~g"}},
        "y": {"field": "y", "type": "quantitative", "scale": {"domain": [0, 3.5], "nice": false}, "axis": {"title": "-Ψ⁻¹ (MPa⁻¹)", "values": [0, 0.5, 1, 1.5, 2, 2.5, 3, 3.5], "format": "~g"}}
      },
      "layer": [
        {"data": {"name": "pts"}, "transform": [{"filter": "datum.p === 'A80'"}], "mark": {"type": "point", "shape": "circle", "filled": true, "size": 310, "stroke": "black", "strokeWidth": 2.5, "opacity": 1},
         "encoding": {"fill": {"field": "g", "type": "nominal", "scale": {"domain": ["Outdoors", "Greenhouse"], "range": ["black", "white"]}}}},
        {"data": {"name": "lines"}, "transform": [{"filter": "datum.p === 'A80' && datum.s === 'solid'"}], "mark": {"type": "line", "color": "black", "strokeWidth": 3.5, "interpolate": "monotone", "clip": true}, "encoding": {"detail": {"field": "id"}}},
        {"data": {"name": "lines"}, "transform": [{"filter": "datum.p === 'A80' && datum.s === 'dot'"}], "mark": {"type": "line", "color": "black", "strokeWidth": 4.5, "strokeDash": [0.1, 10], "strokeCap": "round", "interpolate": "monotone", "clip": true}, "encoding": {"detail": {"field": "id"}}}
      ]
    }
  ],
  "config": {
    "font": "Lato",
    "view": {"stroke": null},
    "axis": {"domainColor": "black", "domainWidth": 3, "domainCap": "square", "ticks": false, "grid": false, "labelFont": "Lato", "labelFontSize": 27, "labelColor": "black", "labelFlush": false, "labelOverlap": false, "titleFont": "Lato", "titleFontSize": 27, "titleFontWeight": "normal", "titleColor": "black"},
    "axisX": {"labelPadding": 33, "titlePadding": 30},
    "axisY": {"labelPadding": 34, "titlePadding": 13, "titleFontSize": 30},
    "title": {"anchor": "end", "frame": "group", "dx": 58, "offset": -26, "fontSize": 36, "fontWeight": "bold", "font": "Lato", "color": "black"},
    "legend": {"symbolType": "square", "symbolSize": 420, "symbolStrokeColor": "black", "symbolStrokeWidth": 2.5, "labelFont": "Lato", "labelFontSize": 27, "labelColor": "black", "labelOffset": 8, "columnPadding": 38}
  }
}
